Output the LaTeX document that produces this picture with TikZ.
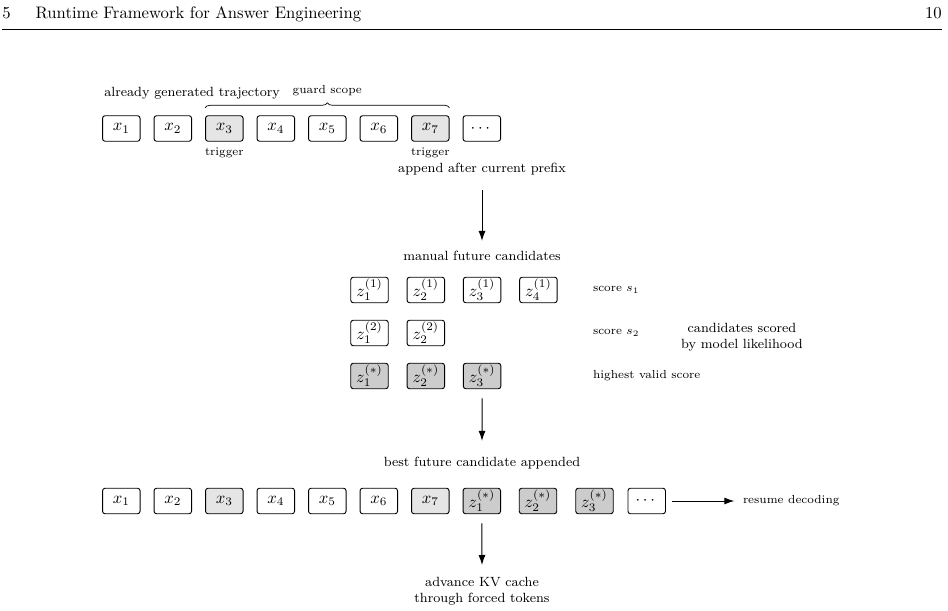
\documentclass[tikz,border=0pt]{standalone}
\usepackage{amsmath}
\usepackage{tikz}
\usetikzlibrary{arrows.meta, decorations.pathreplacing, positioning}
\newcommand\tokenW{22.5pt}
\newcommand\tokenH{15.3pt}
\newcommand\triggerColor{black!10}
\newcommand\bestColor{black!20}
\tikzset{
    token/.style={draw, rounded corners=1.5pt, minimum width=\tokenW, minimum height=\tokenH, inner sep=0pt, line width=0.55pt},
    trig/.style={token, fill=\triggerColor},
    best/.style={token, fill=\bestColor},
    flow/.style={-{Latex[length=6pt, width=4.2pt]}, line width=0.6pt},
    lbl/.style={font=\footnotesize, inner sep=1pt},
    small lbl/.style={font=\scriptsize, inner sep=1pt}
}

\begin{document}
\begin{tikzpicture}[x=0.6pt, y=-0.6pt]
    \useasboundingbox (0,0) rectangle (948,611);

    % page header
    \node[anchor=base west, inner sep=0pt] (chapter) at (2,19) {5\hspace{15pt}Runtime Framework for Answer Engineering};
    \node[anchor=base east, inner sep=0pt] (page) at (942,19) {10};
    \draw[line width=0.4pt] (2,29) -- (942,29);

    % already generated trajectory
    \foreach \i/\sty in {1/token, 2/token, 3/trig, 4/token, 5/token, 6/token, 7/trig}
        \node[\sty] (t\i) at ({121.3 + (\i - 1) * 51.5}, 128.5) {$x_{\i}$};
    \node[token] (tdots) at (481.8, 128.5) {$\cdots$};
    \node[lbl, anchor=base west, inner sep=0pt] (traj) at (104,97) {already generated trajectory};
    \draw[decorate, decoration={brace, amplitude=3pt}] ([yshift=4.5pt]t3.north west) -- ([yshift=4.5pt]t7.north east)
        node[midway, above=6pt, small lbl] (guard) {guard scope};
    \node[small lbl, below=2.5pt of t3] (trig3) {trigger};
    \node[small lbl, below=2.5pt of t7] (trig7) {trigger};
    \node[lbl] (append) at (482,169) {append after current prefix};

    % manual future candidates
    \node[lbl] (manual) at (482,256) {manual future candidates};
    \draw[flow] ([yshift=-8pt]append.south) -- ([yshift=5pt]manual.north);
    \foreach \i in {1,...,4}
        \node[token] (c1\i) at ({369.5 + (\i - 1) * 56.3}, 290) {$z_{\i}^{(1)}$};
    \foreach \i in {1,2}
        \node[token] (c2\i) at ({369.5 + (\i - 1) * 56.3}, 333) {$z_{\i}^{(2)}$};
    \foreach \i in {1,2,3}
        \node[best] (c3\i) at ({369.5 + (\i - 1) * 56.3}, 376) {$z_{\i}^{(*)}$};
    \node[small lbl, anchor=west] (score1) at (591,290) {score $s_1$};
    \node[small lbl, anchor=west] (score2) at (591,333) {score $s_2$};
    \node[small lbl, anchor=west] (valid) at (591,376) {highest valid score};
    \node[lbl, align=center] (likely) at (742,337) {candidates scored\\by model likelihood};

    % best candidate appended
    \node[lbl] (appended) at (482,463) {best future candidate appended};
    \draw[flow] ([yshift=-5.5pt]c33.south) -- ([yshift=8.5pt]appended.north);
    \foreach \i/\sty in {1/token, 2/token, 3/trig, 4/token, 5/token, 6/token, 7/trig}
        \node[\sty] (b\i) at ({121.3 + (\i - 1) * 51.5}, 501) {$x_{\i}$};
    \foreach \i/\xx in {1/481.8, 2/538, 3/594.5}
        \node[best] (bz\i) at (\xx, 501) {$z_{\i}^{(*)}$};
    \node[token] (bdots) at (646.7, 501) {$\cdots$};
    \node[small lbl, anchor=west] (resume) at (741,501) {resume decoding};
    \draw[flow] ([xshift=3.5pt]bdots.east) -- ([xshift=-4pt]resume.west);

    % kv cache
    \node[lbl, align=center, anchor=north] (kv) at (482,575) {advance KV cache\\through forced tokens};
    \draw[flow] ([yshift=-5.5pt]bz1.south) -- ([yshift=6pt]kv.north);
\end{tikzpicture}
\end{document}
